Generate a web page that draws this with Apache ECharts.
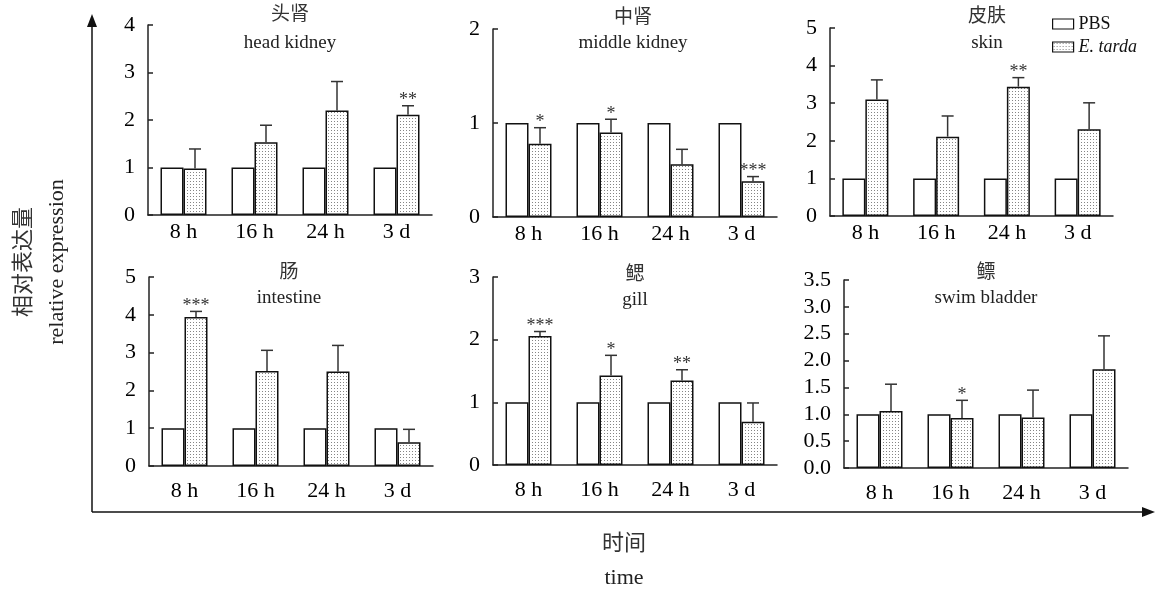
<!DOCTYPE html>
<html>
<head>
<meta charset="utf-8">
<script src="https://cdn.jsdelivr.net/npm/echarts@6/dist/echarts.min.js"></script>
<style>html,body{margin:0;padding:0;background:#fff}#c{width:1161px;height:590px}</style>
</head>
<body>
<div id="c"></div>
<script>
// ---- data ----
var categories = ['8 h', '16 h', '24 h', '3 d'];
var yTickMax = [4, 2, 5, 5, 3, 3.5];
var yTickInterval = [1, 1, 1, 1, 1, 0.5];
var titlesZh = ['头肾', '中肾', '皮肤', '肠', '鳃', '鳔'];
var titlesEn = ['head kidney', 'middle kidney', 'skin', 'intestine', 'gill', 'swim bladder'];

var headKidneyPBS = [1, 1, 1, 1];
var headKidneyET = [0.98, 1.53, 2.20, 2.11];
var headKidneySD = [0.41, 0.36, 0.61, 0.19];
var headKidneySig = ['', '', '', '**'];

var middleKidneyPBS = [1, 1, 1, 1];
var middleKidneyET = [0.78, 0.90, 0.56, 0.38];
var middleKidneySD = [0.17, 0.14, 0.16, 0.05];
var middleKidneySig = ['*', '*', '', '***'];

var skinPBS = [1, 1, 1, 1];
var skinET = [3.10, 2.11, 3.44, 2.31];
var skinSD = [0.52, 0.55, 0.24, 0.70];
var skinSig = ['', '', '**', ''];

var intestinePBS = [1, 1, 1, 1];
var intestineET = [3.94, 2.51, 2.50, 0.63];
var intestineSD = [0.15, 0.55, 0.69, 0.34];
var intestineSig = ['***', '', '', ''];

var gillPBS = [1, 1, 1, 1];
var gillET = [2.06, 1.43, 1.35, 0.69];
var gillSD = [0.07, 0.32, 0.17, 0.30];
var gillSig = ['***', '*', '**', ''];

var swimPBS = [1, 1, 1, 1];
var swimET = [1.06, 0.93, 0.94, 1.84];
var swimSD = [0.50, 0.33, 0.51, 0.62];
var swimSig = ['', '*', '', ''];

// ---- build ----
var panels = [
  {pbs: headKidneyPBS, et: headKidneyET, sd: headKidneySD, sig: headKidneySig},
  {pbs: middleKidneyPBS, et: middleKidneyET, sd: middleKidneySD, sig: middleKidneySig},
  {pbs: skinPBS, et: skinET, sd: skinSD, sig: skinSig},
  {pbs: intestinePBS, et: intestineET, sd: intestineSD, sig: intestineSig},
  {pbs: gillPBS, et: gillET, sd: gillSD, sig: gillSig},
  {pbs: swimPBS, et: swimET, sd: swimSD, sig: swimSig}
];
var grids = [
  {left: 148, top: 25, width: 284, height: 190},
  {left: 493, top: 29, width: 284, height: 188},
  {left: 830, top: 28, width: 283, height: 188},
  {left: 149, top: 277, width: 284, height: 189},
  {left: 493, top: 277, width: 284, height: 188},
  {left: 844, top: 280, width: 284, height: 188}
];
var titlePos = [
  [290, 15, 43], [633, 18, 43], [987, 17, 43],
  [289, 273, 298], [635, 275, 300], [986, 273, 298]
];

var FONT = "'Liberation Serif', 'Times New Roman', 'Noto Sans CJK SC', serif";
var BAR_W = 23;

// dotted pattern
var pc = document.createElement('canvas');
pc.width = 3; pc.height = 3;
var pctx = pc.getContext('2d');
pctx.fillStyle = '#ffffff';
pctx.fillRect(0, 0, 3, 3);
pctx.fillStyle = '#858585';
pctx.fillRect(1, 1, 1, 1);
var dotPattern = {image: pc, repeat: 'repeat'};

var xAxes = [], yAxes = [], series = [], gridOpts = [];
panels.forEach(function (p, i) {
  var g = grids[i];
  gridOpts.push({left: g.left, top: g.top, width: g.width, height: g.height, outerBoundsMode: 'none'});
  xAxes.push({
    type: 'category', gridIndex: i, data: categories,
    axisLine: {lineStyle: {color: '#222', width: 1.5}},
    axisTick: {show: false},
    axisLabel: {color: '#000', fontFamily: FONT, fontSize: 22, margin: i < 3 ? 6 : 14}
  });
  yAxes.push({
    type: 'value', gridIndex: i, min: 0, max: yTickMax[i], interval: yTickInterval[i],
    axisLine: {show: true, lineStyle: {color: '#222', width: 1.5}},
    axisTick: {show: true, inside: true, length: 5, lineStyle: {color: '#222', width: 1.5}},
    splitLine: {show: false},
    axisLabel: {color: '#000', fontFamily: FONT, fontSize: 22, margin: 13,
      formatter: yTickInterval[i] < 1 ? function (v) { return v.toFixed(1); } : function (v) { return v; }}
  });
  series.push({
    name: 'PBS', type: 'bar', xAxisIndex: i, yAxisIndex: i, data: p.pbs,
    barWidth: BAR_W, barGap: '0%',
    itemStyle: {color: '#ffffff', borderColor: '#111', borderWidth: 1.5},
    emphasis: {disabled: true}, animation: false
  });
  series.push({
    name: 'E. tarda', type: 'bar', xAxisIndex: i, yAxisIndex: i, data: p.et,
    barWidth: BAR_W, barGap: '0%',
    itemStyle: {color: dotPattern, borderColor: '#111', borderWidth: 1.5},
    emphasis: {disabled: true}, animation: false
  });
  (function (p) {
    series.push({
      type: 'custom', xAxisIndex: i, yAxisIndex: i, z: 5, animation: false,
      data: p.et.map(function (v, k) { return [k, v, v + p.sd[k]]; }),
      encode: {x: 0, y: [1, 2]},
      renderItem: function (params, api) {
        var k = api.value(0);
        var a = api.coord([k, api.value(1)]);
        var b = api.coord([k, api.value(2)]);
        var x = a[0] + BAR_W / 2;
        var children = [
          {type: 'line', shape: {x1: x, y1: a[1], x2: x, y2: b[1]}, style: {stroke: '#333', lineWidth: 1.5}},
          {type: 'line', shape: {x1: x - 6, y1: b[1], x2: x + 6, y2: b[1]}, style: {stroke: '#333', lineWidth: 1.5}}
        ];
        var s = p.sig[params.dataIndex];
        if (s) {
          children.push({type: 'text', x: x, y: b[1] + 4,
            style: {text: s, font: '18px ' + FONT, fill: '#333', align: 'center', verticalAlign: 'bottom',
              textAlign: 'center', textVerticalAlign: 'bottom'}});
        }
        return {type: 'group', children: children};
      }
    });
  })(p);
});

var graphics = [];
titlesZh.forEach(function (t, i) {
  var tp = titlePos[i];
  graphics.push({type: 'text', x: tp[0], y: tp[1], silent: true,
    style: {text: t, font: '19px ' + FONT, fill: '#333', align: 'center', verticalAlign: 'middle',
      textAlign: 'center', textVerticalAlign: 'middle'}});
  graphics.push({type: 'text', x: tp[0], y: tp[2], silent: true,
    style: {text: titlesEn[i], font: '19px ' + FONT, fill: '#222', align: 'center', verticalAlign: 'middle',
      textAlign: 'center', textVerticalAlign: 'middle'}});
});
// big frame axes with arrows
graphics.push({type: 'line', silent: true, shape: {x1: 92, y1: 24, x2: 92, y2: 512}, style: {stroke: '#111', lineWidth: 1.5}});
graphics.push({type: 'polygon', silent: true, shape: {points: [[92, 14], [87, 27], [97, 27]]}, style: {fill: '#111'}});
graphics.push({type: 'line', silent: true, shape: {x1: 92, y1: 512, x2: 1144, y2: 512}, style: {stroke: '#111', lineWidth: 1.5}});
graphics.push({type: 'polygon', silent: true, shape: {points: [[1155, 512], [1142, 507], [1142, 517]]}, style: {fill: '#111'}});
// axis titles
graphics.push({type: 'text', x: 624, y: 544, silent: true,
  style: {text: '时间', font: '22px ' + FONT, fill: '#333', align: 'center', verticalAlign: 'middle', textAlign: 'center', textVerticalAlign: 'middle'}});
graphics.push({type: 'text', x: 624, y: 578, silent: true,
  style: {text: 'time', font: '22px ' + FONT, fill: '#222', align: 'center', verticalAlign: 'middle', textAlign: 'center', textVerticalAlign: 'middle'}});
graphics.push({type: 'text', x: 24, y: 262, rotation: Math.PI / 2, silent: true,
  style: {text: '相对表达量', font: '22px ' + FONT, fill: '#333', align: 'center', verticalAlign: 'middle', textAlign: 'center', textVerticalAlign: 'middle'}});
graphics.push({type: 'text', x: 57, y: 262, rotation: Math.PI / 2, silent: true,
  style: {text: 'relative expression', font: '22px ' + FONT, fill: '#222', align: 'center', verticalAlign: 'middle', textAlign: 'center', textVerticalAlign: 'middle'}});

var chart = echarts.init(document.getElementById('c'), null, {renderer: 'canvas'});
chart.setOption({
  animation: false,
  backgroundColor: '#ffffff',
  legend: {
    data: [{name: 'PBS', icon: 'rect'}, {name: 'E. tarda', icon: 'rect'}],
    orient: 'vertical', left: 1047, top: 10,
    itemWidth: 21, itemHeight: 10, itemGap: 5, selectedMode: false,
    itemStyle: {borderWidth: 1.2, borderColor: '#111'},
    textStyle: {color: '#111', fontFamily: FONT, fontSize: 18,
      rich: {i: {fontStyle: 'italic', fontFamily: FONT, fontSize: 18, color: '#111'}}},
    formatter: function (n) { return n === 'E. tarda' ? '{i|E. tarda}' : n; }
  },
  grid: gridOpts,
  xAxis: xAxes,
  yAxis: yAxes,
  series: series,
  graphic: graphics
});
</script>
</body>
</html>
